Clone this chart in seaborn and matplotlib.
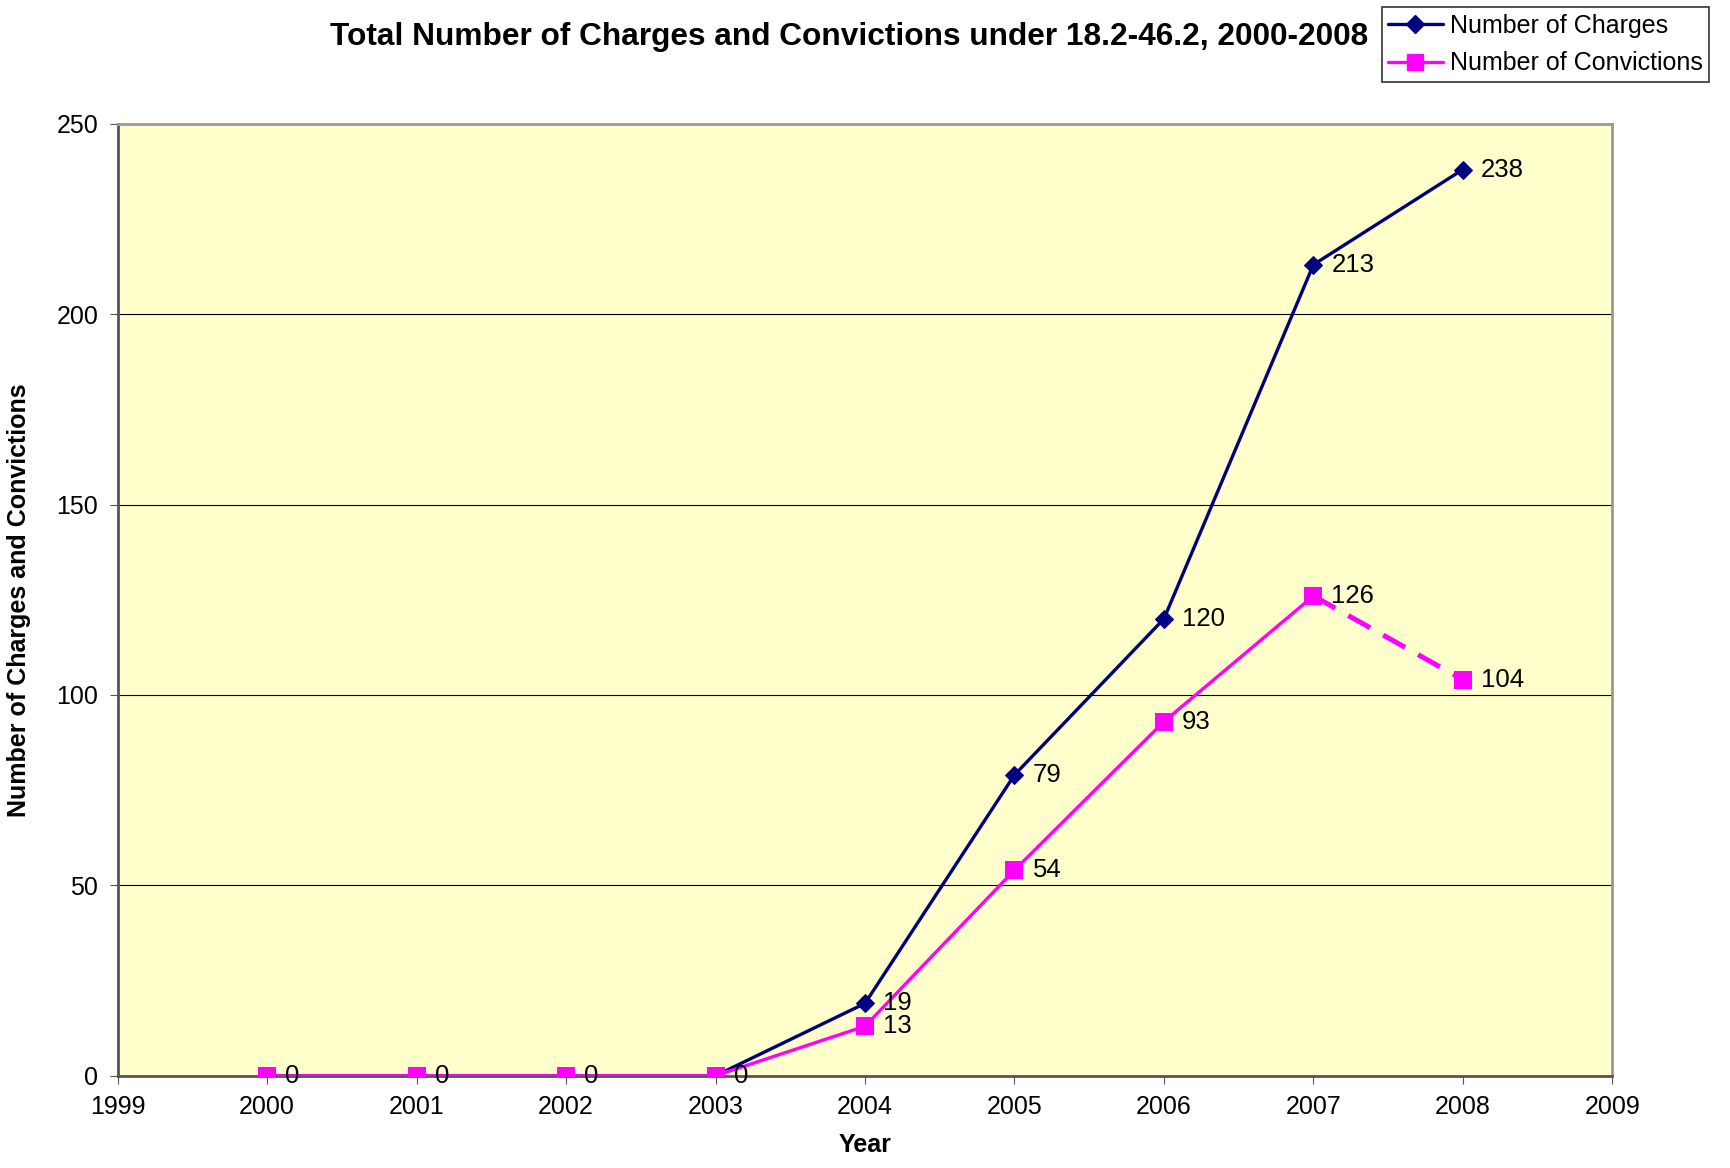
import matplotlib
matplotlib.use("Agg")
import matplotlib.pyplot as plt
import seaborn as sns
import pandas as pd
from matplotlib.lines import Line2D

years = [2000, 2001, 2002, 2003, 2004, 2005, 2006, 2007, 2008]
charges = [0, 0, 0, 0, 19, 79, 120, 213, 238]
convictions = [0, 0, 0, 0, 13, 54, 93, 126, 104]
y_ticks = [0, 50, 100, 150, 200, 250]
x_ticks = list(range(1999, 2010))

sns.set_style("white")
plt.rcParams['font.family'] = ['Liberation Sans', 'DejaVu Sans']
plt.rcParams['text.color'] = 'black'
plt.rcParams['axes.labelcolor'] = 'black'
plt.rcParams['xtick.color'] = 'black'
plt.rcParams['ytick.color'] = 'black'

navy = '#000080'
magenta = '#ff00ff'

df = pd.DataFrame({'Year': years, 'Charges': charges, 'Convictions': convictions})

fig = plt.figure(figsize=(17.3, 11.68), dpi=100)
ax = fig.add_axes([0.068, 0.079, 0.864, 0.815])
ax.set_facecolor('#ffffcc')

sns.lineplot(data=df, x='Year', y='Charges', ax=ax, color=navy, lw=2.4,
             marker='D', markersize=9, markeredgecolor=navy, zorder=3)
# convictions: solid up to 2007, dashed last segment
sns.lineplot(data=df.iloc[:8], x='Year', y='Convictions', ax=ax, color=magenta, lw=2.4, zorder=4)
sns.lineplot(data=df.iloc[7:], x='Year', y='Convictions', ax=ax, color=magenta, lw=3.6,
             linestyle=(0, (5, 3)), zorder=4)
sns.scatterplot(data=df, x='Year', y='Convictions', ax=ax, color=magenta, marker='s', s=180,
                edgecolor=magenta, linewidth=0, zorder=5)

for x, c, v in zip(years, charges, convictions):
    ax.annotate(str(c), (x, c), xytext=(13, 0), textcoords='offset points',
                va='center', ha='left', fontsize=18.5, zorder=6)
    if v != c:
        ax.annotate(str(v), (x, v), xytext=(13, 0), textcoords='offset points',
                    va='center', ha='left', fontsize=18.5, zorder=6)

ax.set_xlim(1999, 2009)
ax.set_ylim(0, 250)
ax.set_xticks(x_ticks)
ax.set_yticks(y_ticks)
ax.tick_params(axis='both', labelsize=18, length=6, direction='out', color='#555555',
               bottom=True, left=True, pad=8)
for y in y_ticks[1:-1]:
    ax.axhline(y, color='black', lw=0.8, zorder=1)

for side in ['top', 'right']:
    ax.spines[side].set_color('#999999')
    ax.spines[side].set_linewidth(2)
for side in ['left', 'bottom']:
    ax.spines[side].set_color('#555555')
    ax.spines[side].set_linewidth(2)

ax.set_xlabel('Year', fontsize=18, fontweight='bold', labelpad=10)
ax.set_ylabel('Number of Charges and Convictions', fontsize=18, fontweight='bold', labelpad=18)

fig.text(0.491, 0.968, 'Total Number of Charges and Convictions under 18.2-46.2, 2000-2008',
         ha='center', va='center', fontsize=22.8, fontweight='bold')

handles = [Line2D([0], [0], color=navy, lw=2.4, marker='D', markersize=9),
           Line2D([0], [0], color=magenta, lw=2.4, marker='s', markersize=11)]
leg = fig.legend(handles, ['Number of Charges', 'Number of Convictions'],
                 loc='upper right', bbox_to_anchor=(0.991, 0.998), fontsize=18,
                 frameon=True, fancybox=False, edgecolor='black', handlelength=2.2,
                 borderpad=0.25, labelspacing=0.55, handletextpad=0.3, borderaxespad=0.2)
leg.get_frame().set_linewidth(1.2)

fig.savefig('out.png', dpi=100)
